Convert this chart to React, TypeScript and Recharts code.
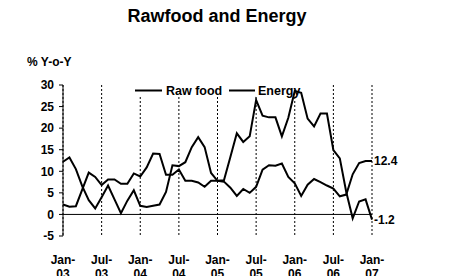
import React from "react";
import { LineChart, Line, XAxis, YAxis, CartesianGrid, ReferenceLine, LabelList, Customized } from "recharts";

const FONT = '"Liberation Sans", Arial, sans-serif';

const months = [
  "Jan-03", "Feb-03", "Mar-03", "Apr-03", "May-03", "Jun-03", "Jul-03", "Aug-03", "Sep-03", "Oct-03", "Nov-03", "Dec-03",
  "Jan-04", "Feb-04", "Mar-04", "Apr-04", "May-04", "Jun-04", "Jul-04", "Aug-04", "Sep-04", "Oct-04", "Nov-04", "Dec-04",
  "Jan-05", "Feb-05", "Mar-05", "Apr-05", "May-05", "Jun-05", "Jul-05", "Aug-05", "Sep-05", "Oct-05", "Nov-05", "Dec-05",
  "Jan-06", "Feb-06", "Mar-06", "Apr-06", "May-06", "Jun-06", "Jul-06", "Aug-06", "Sep-06", "Oct-06", "Nov-06", "Dec-06",
  "Jan-07",
];

const rawFood = [
  2.3, 1.8, 1.9, 5.8, 9.7, 8.7, 6.8, 8.1, 8.1, 7.1, 7.1, 9.5,
  8.8, 10.9, 14.1, 14.0, 9.2, 9.2, 10.4, 7.8, 7.8, 7.4, 6.4, 7.8,
  7.8, 7.6, 6.2, 4.3, 5.9, 5.0, 6.4, 10.4, 11.4, 11.3, 11.8, 8.7,
  7.2, 4.3, 6.9, 8.2, 7.5, 6.7, 6.0, 4.2, 4.6, 9.3, 11.9, 12.4,
  12.4,
];

const energy = [
  12.2, 13.2, 10.5, 6.5, 3.3, 1.4, 4.0, 6.7, 3.5, 0.3, 3.2, 5.6,
  2.0, 1.7, 2.0, 2.3, 5.2, 11.4, 11.2, 12.1, 15.6, 17.9, 15.6, 9.6,
  7.8, 7.9, 13.3, 18.8, 16.8, 18.1, 26.5, 22.9, 22.5, 22.5, 18.1, 22.4,
  28.6, 28.2, 22.2, 20.4, 23.4, 23.4, 14.9, 13.0, 5.2, -0.9, 3.0, 3.5,
  -1.2,
];

const seriesNames = ["Raw food", "Energy"];
const xTicks = ["Jan-03", "Jul-03", "Jan-04", "Jul-04", "Jan-05", "Jul-05", "Jan-06", "Jul-06", "Jan-07"];
const yTicks = [-5, 0, 5, 10, 15, 20, 25, 30];

const data = months.map((m, i) => ({ month: m, rawFood: rawFood[i], energy: energy[i] }));

const XTick = (props: any) => {
  const { x, y, payload } = props;
  const [mon, yr] = String(payload.value).split("-");
  return (
    <text x={x} y={y} textAnchor="middle" fill="#000" fontSize={12} fontWeight="bold" fontFamily={FONT}>
      <tspan x={x} dy={26}>{mon}-</tspan>
      <tspan x={x} dy={14}>{yr}</tspan>
    </text>
  );
};

const EndLabel = (props: any) => {
  const { x, y, value, index } = props;
  if (index !== months.length - 1) return null;
  return (
    <text x={x + 2} y={y} dominantBaseline="central" fill="#000" fontSize={12} fontWeight="bold" fontFamily={FONT}>
      {value}
    </text>
  );
};

// legend drawn in the svg so the series lines can cross over it
const SvgLegend = () => (
  <g>
    <rect x={132} y={84} width={176} height={13} fill="#fff" />
    <line x1={135} y1={90.5} x2={162} y2={90.5} stroke="#000" strokeWidth={2} />
    <text x={166} y={90.5} dominantBaseline="central" fontSize={12.5} fontWeight="bold" fontFamily={FONT} fill="#000">
      {seriesNames[0]}
    </text>
    <line x1={229} y1={90.5} x2={255} y2={90.5} stroke="#000" strokeWidth={2} />
    <text x={258} y={90.5} dominantBaseline="central" fontSize={12.5} fontWeight="bold" fontFamily={FONT} fill="#000">
      {seriesNames[1]}
    </text>
  </g>
);

export default function App() {
  return (
    <div style={{ position: "absolute", left: 0, top: 0, width: 452, height: 276, fontFamily: FONT }}>
      <div style={{ position: "absolute", top: 6, left: 0, width: 434, textAlign: "center", fontSize: 18, fontWeight: "bold" }}>
        Rawfood and Energy
      </div>
      <div style={{ position: "absolute", top: 55, left: 27, fontSize: 12, fontWeight: "bold" }}>% Y-o-Y</div>
      <LineChart width={452} height={276} data={data} margin={{ top: 85, right: 80, left: 0, bottom: 0 }}>
        <CartesianGrid horizontal={false} stroke="#000" strokeDasharray="2 2" />
        <Customized component={<SvgLegend />} />
        <XAxis
          dataKey="month"
          ticks={xTicks}
          interval={0}
          axisLine={false}
          tickLine={false}
          tickSize={0}
          height={40}
          tick={<XTick />}
        />
        <YAxis
          domain={[-5, 30]}
          ticks={yTicks}
          width={63}
          stroke="#000"
          tickSize={4}
          tickMargin={5}
          tick={{ fill: "#000", fontSize: 12, fontWeight: "bold", fontFamily: FONT }}
        />
        <ReferenceLine y={0} stroke="#000" strokeWidth={1} />
        <Line dataKey="rawFood" name={seriesNames[0]} stroke="#000" strokeWidth={2} dot={false} isAnimationActive={false}>
          <LabelList dataKey="rawFood" content={<EndLabel />} />
        </Line>
        <Line dataKey="energy" name={seriesNames[1]} stroke="#000" strokeWidth={2} dot={false} isAnimationActive={false}>
          <LabelList dataKey="energy" content={<EndLabel />} />
        </Line>
      </LineChart>
    </div>
  );
}
